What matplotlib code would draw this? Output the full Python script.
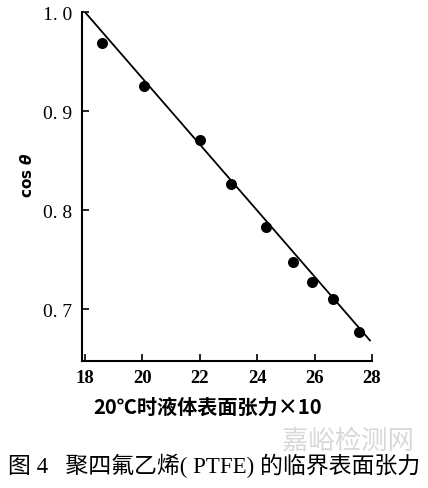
import matplotlib
matplotlib.use("Agg")
import matplotlib.pyplot as plt

plt.rcParams['font.family'] = ['Liberation Serif', 'Noto Sans CJK SC', 'DejaVu Sans']

tension = [18.6, 20.05, 22.0, 23.1, 24.3, 25.25, 25.9, 26.65, 27.55]
cos_theta = [0.969, 0.926, 0.871, 0.827, 0.783, 0.748, 0.728, 0.710, 0.677]
fit_x = [18.0, 27.95]
fit_y = [1.0, 0.668]
xticks = [18, 20, 22, 24, 26, 28]
yticks = [0.7, 0.8, 0.9, 1.0]
ytick_labels = ['0. 7', '0. 8', '0. 9', '1. 0']

fig = plt.figure(figsize=(4.28, 4.89), dpi=100)
ax = fig.add_axes([0.192, 0.260, 0.677, 0.713])
ax.plot(fit_x, fit_y, color='black', lw=1.3, solid_capstyle='butt')
ax.scatter(tension, cos_theta, s=48, color='black', zorder=3)
ax.set_xlim(17.9, 28.0)
ax.set_ylim(0.648, 1.0)
ax.spines['top'].set_visible(False)
ax.spines['right'].set_visible(False)
for s in ['left', 'bottom']:
    ax.spines[s].set_linewidth(1.5)
ax.set_xticks(xticks)
ax.set_xticklabels([str(t) for t in xticks], fontsize=13.5, fontweight='bold')
ax.set_yticks(yticks)
ax.set_yticklabels(ytick_labels, fontsize=14)
ax.tick_params(axis='both', direction='in', length=5, width=1.2, pad=6)
ax.tick_params(axis='y', pad=7)

fig.text(0.062, 0.642, r'cos $\boldsymbol{\theta}$', rotation=90, ha='center', va='center',
         fontsize=11, fontweight='bold', family=['DejaVu Sans'])
fig.text(0.485, 0.168, '20℃时液体表面张力×10', ha='center', va='center',
         fontsize=14.5, fontweight='bold', family=['Noto Sans CJK SC', 'DejaVu Sans'])
fig.text(0.812, 0.098, '嘉峪检测网', ha='center', va='center', fontsize=19,
         color='#d8d8d8', family=['Noto Sans CJK SC'])
fig.text(0.5, 0.047, '图 4   聚四氟乙烯( PTFE) 的临界表面张力', ha='center', va='center',
         fontsize=16.5, family=['Liberation Serif', 'Noto Sans CJK SC', 'DejaVu Sans'])

fig.savefig('out.png', dpi=100)
